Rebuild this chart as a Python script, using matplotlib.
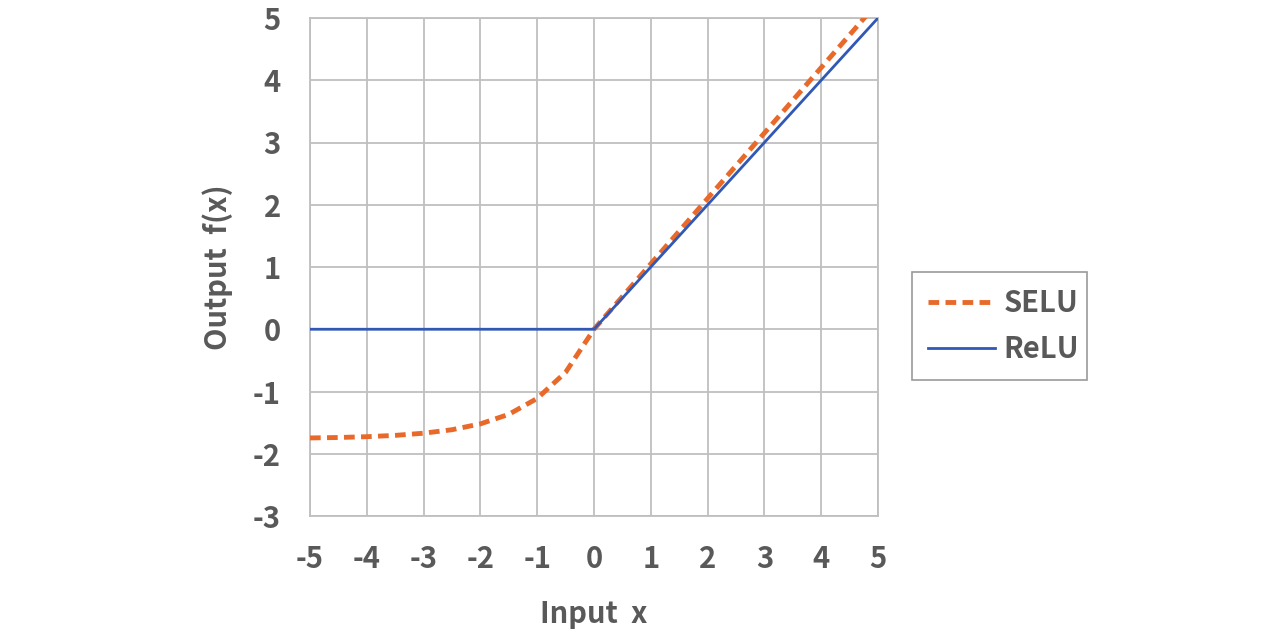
import matplotlib
matplotlib.use("Agg")
import matplotlib.pyplot as plt

x_vals = [-5, -4.5, -4, -3.5, -3, -2.5, -2, -1.5, -1, -0.5, 0, 0.5, 1, 1.5, 2, 2.5, 3, 3.5, 4, 4.5, 5]
selu = [-1.746, -1.739, -1.726, -1.705, -1.670, -1.614, -1.520, -1.367, -1.111, -0.692, 0.0,
        0.525, 1.051, 1.576, 2.101, 2.627, 3.152, 3.677, 4.203, 4.728, 5.254]
relu = [0, 0, 0, 0, 0, 0, 0, 0, 0, 0, 0, 0.5, 1, 1.5, 2, 2.5, 3, 3.5, 4, 4.5, 5]
xticks = [-5, -4, -3, -2, -1, 0, 1, 2, 3, 4, 5]
yticks = [-3, -2, -1, 0, 1, 2, 3, 4, 5]

plt.rcParams['font.family'] = ['Noto Sans CJK JP', 'DejaVu Sans']
txt = '#595959'
grid = '#BFBFBF'
fs = 21

fig = plt.figure(figsize=(12.84, 6.32), dpi=100)
ax = fig.add_axes([310/1284, 1-516/632, 568/1284, 498/632])

ax.plot(x_vals, selu, color='#E8692A', lw=3.5, ls=(0, (2.2, 1.3)), label='SELU', zorder=3)
ax.plot(x_vals, relu, color='#3158B5', lw=2.0, label='ReLU', zorder=4)

ax.set_xlim(-5, 5)
ax.set_ylim(-3, 5)
ax.set_xticks(xticks)
ax.set_yticks(yticks)
ax.set_xticklabels([str(v) for v in xticks])
ax.set_yticklabels([str(v) for v in yticks])
ax.grid(True, color=grid, lw=1.3)
ax.set_axisbelow(True)
for s in ax.spines.values():
    s.set_color(grid)
    s.set_linewidth(1.3)
ax.tick_params(axis='x', length=0, labelsize=fs, labelcolor=txt, pad=20)
ax.tick_params(axis='y', length=0, labelsize=fs, labelcolor=txt, pad=21)
for lab in ax.get_xticklabels() + ax.get_yticklabels():
    lab.set_fontweight('bold')

ax.set_xlabel('Input  x', fontsize=fs, color=txt, fontweight='bold', labelpad=18)
ax.set_ylabel('Output  f(x)', fontsize=fs, color=txt, fontweight='bold', labelpad=14)

leg = ax.legend(loc='center left', bbox_to_anchor=(912/1284, 1-380/632, 175/1284, 108/632),
                bbox_transform=fig.transFigure, mode='expand', fontsize=fs, frameon=True,
                fancybox=False, edgecolor='#808080', handlelength=2.3, handletextpad=0.3,
                borderpad=0.55, labelspacing=0.55, borderaxespad=0)
leg.get_frame().set_linewidth(1.2)
for t in leg.get_texts():
    t.set_color(txt)
    t.set_fontweight('bold')

fig.savefig('out.png', dpi=100, facecolor='white')
